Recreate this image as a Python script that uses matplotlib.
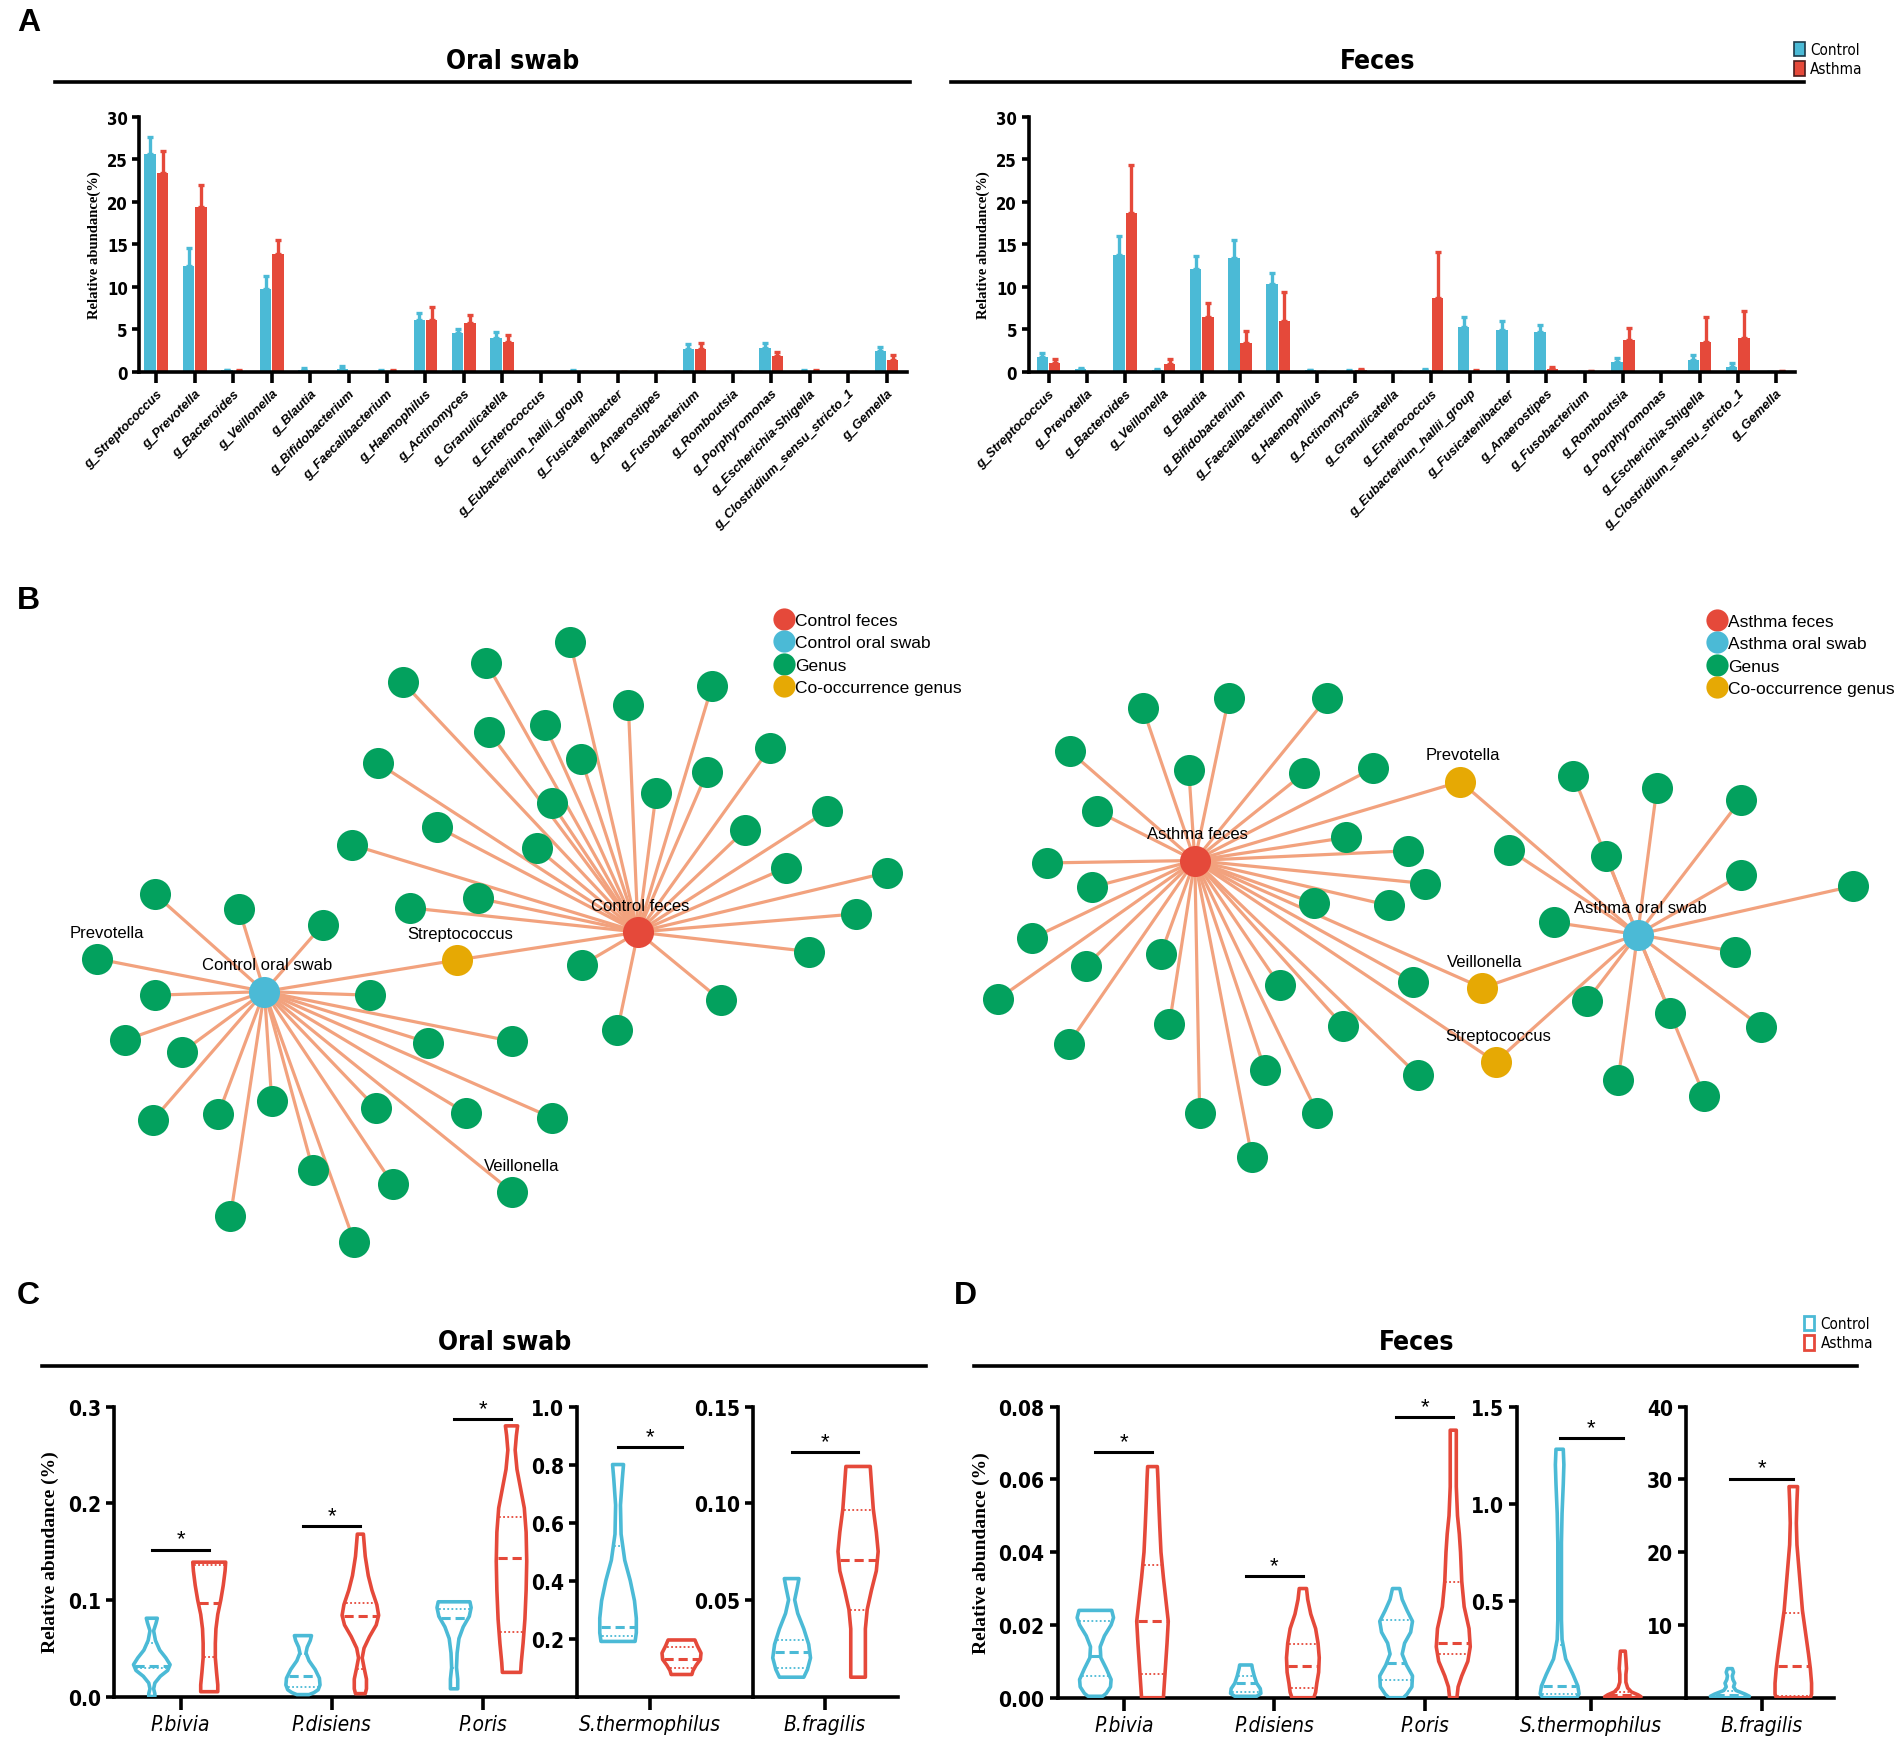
import numpy as np
import matplotlib
matplotlib.use('Agg')
import matplotlib.pyplot as plt
from matplotlib import font_manager
from matplotlib.font_manager import FontProperties
from matplotlib.patches import Patch
from matplotlib.lines import Line2D

# ---------------- data ----------------
genera = ['g_Streptococcus', 'g_Prevotella', 'g_Bacteroides', 'g_Veillonella', 'g_Blautia',
          'g_Bifidobacterium', 'g_Faecalibacterium', 'g_Haemophilus', 'g_Actinomyces',
          'g_Granulicatella', 'g_Enterococcus', 'g_Eubacterium_hallii_group', 'g_Fusicatenibacter',
          'g_Anaerostipes', 'g_Fusobacterium', 'g_Romboutsia', 'g_Porphyromonas',
          'g_Escherichia-Shigella', 'g_Clostridium_sensu_stricto_1', 'g_Gemella']

oral_ctrl = [25.6, 12.4, 0.15, 9.7, 0.2, 0.3, 0.1, 6.1, 4.5, 4.0, 0.0, 0.1, 0.0, 0.0, 2.6, 0.0, 2.8, 0.1, 0.0, 2.4]
oral_ctrl_se = [2.0, 2.1, 0.05, 1.5, 0.2, 0.4, 0.05, 0.8, 0.5, 0.6, 0.0, 0.05, 0.0, 0.0, 0.6, 0.0, 0.6, 0.05, 0.0, 0.5]
oral_asth = [23.4, 19.4, 0.1, 13.8, 0.0, 0.0, 0.1, 6.1, 5.7, 3.5, 0.0, 0.0, 0.0, 0.0, 2.7, 0.0, 1.8, 0.1, 0.0, 1.4]
oral_asth_se = [2.6, 2.5, 0.05, 1.7, 0.0, 0.0, 0.05, 1.5, 0.9, 0.8, 0.0, 0.0, 0.0, 0.0, 0.6, 0.0, 0.5, 0.05, 0.0, 0.5]

fec_ctrl = [1.7, 0.3, 13.7, 0.2, 12.1, 13.4, 10.3, 0.15, 0.1, 0.0, 0.2, 5.2, 4.9, 4.7, 0.0, 1.1, 0.0, 1.4, 0.5, 0.0]
fec_ctrl_se = [0.5, 0.1, 2.2, 0.05, 1.5, 2.1, 1.3, 0.05, 0.05, 0.0, 0.1, 1.2, 1.0, 0.8, 0.0, 0.5, 0.0, 0.5, 0.5, 0.0]
fec_asth = [1.0, 0.0, 18.7, 0.9, 6.4, 3.3, 6.0, 0.0, 0.15, 0.0, 8.6, 0.1, 0.0, 0.3, 0.05, 3.7, 0.0, 3.5, 4.0, 0.05]
fec_asth_se = [0.5, 0.0, 5.6, 0.6, 1.7, 1.5, 3.4, 0.0, 0.1, 0.0, 5.5, 0.05, 0.0, 0.2, 0.0, 1.4, 0.0, 2.9, 3.1, 0.0]

# network layout (node coordinates of the drawn graph)
ctrl_feces_hub = (526, 769)
ctrl_oral_hub = (218, 818)
ctrl_feces_x = [470, 401, 332, 587, 518, 403, 449, 479, 635, 312, 583, 541, 455, 682, 614, 360, 443, 290,
                648, 731, 338, 394, 706, 480, 667, 594, 509]
ctrl_feces_y = [530, 547, 563, 566, 582, 604, 598, 626, 617, 630, 637, 654, 663, 669, 685, 682, 700, 697,
                716, 720, 749, 741, 754, 796, 785, 825, 850]
ctrl_oral_x = [128, 197, 266, 80, 128, 305, 103, 150, 353, 422, 126, 180, 224, 310, 384, 455, 258, 324, 422, 190, 292]
ctrl_oral_y = [738, 750, 763, 791, 821, 821, 858, 868, 860, 859, 924, 919, 908, 914, 918, 922, 965, 977, 983, 1003, 1024]
ctrl_shared_x = [377]
ctrl_shared_y = [792]
ctrl_shared_names = ['Streptococcus']
ctrl_named = [('Prevotella', 80, 791), ('Veillonella', 422, 983)]

asth_feces_hub = (985, 710)
asth_oral_hub = (1350, 771)
asth_feces_x = [942, 1013, 1094, 882, 980, 1075, 1132, 904, 1110, 863, 1161, 900, 1175, 1083, 1145, 851, 957,
                895, 1165, 1055, 823, 964, 1107, 881, 1043, 1169, 989, 1086, 1032]
asth_feces_y = [584, 576, 576, 620, 635, 638, 634, 669, 691, 712, 702, 732, 729, 745, 747, 774, 787,
                797, 810, 813, 824, 845, 846, 861, 883, 887, 918, 918, 954]
asth_oral_x = [1297, 1366, 1435, 1244, 1324, 1435, 1528, 1281, 1430, 1308, 1377, 1452, 1334, 1405]
asth_oral_y = [640, 650, 660, 701, 706, 722, 731, 761, 785, 826, 836, 847, 891, 904]
asth_shared_x = [1204, 1222, 1233]
asth_shared_y = [645, 815, 876]
asth_shared_names = ['Prevotella', 'Veillonella', 'Streptococcus']

species = ['P.bivia', 'P.disiens', 'P.oris', 'S.thermophilus', 'B.fragilis']

# violin outlines: (value, half width) top to bottom
oral_ctrl_shapes = [
    [(0.081, 9), (0.076, 7), (0.068, 3), (0.058, 6), (0.048, 13), (0.040, 23), (0.033, 30), (0.027, 26),
     (0.021, 14), (0.014, 5), (0.008, 3), (0.003, 5), (0.0, 5)],
    [(0.063, 14), (0.058, 12), (0.051, 7), (0.045, 5), (0.037, 10), (0.028, 20), (0.019, 27), (0.012, 28),
     (0.007, 25), (0.004, 18), (0.002, 10)],
    [(0.098, 26), (0.092, 28), (0.083, 25), (0.072, 15), (0.060, 8), (0.045, 5), (0.030, 4), (0.018, 6), (0.008, 6)],
    [(0.80, 9), (0.75, 7), (0.66, 4), (0.56, 5), (0.47, 11), (0.40, 20), (0.33, 27), (0.27, 30), (0.22, 30), (0.19, 28)],
    [(0.061, 12), (0.056, 9), (0.050, 5), (0.043, 10), (0.035, 20), (0.027, 28), (0.020, 31), (0.014, 26), (0.010, 20)],
]
oral_asth_shapes = [
    [(0.139, 27), (0.130, 26), (0.115, 23), (0.100, 19), (0.085, 14), (0.070, 11), (0.055, 10), (0.040, 10),
     (0.025, 12), (0.012, 14), (0.005, 14)],
    [(0.168, 5), (0.160, 6), (0.145, 8), (0.125, 13), (0.110, 19), (0.095, 27), (0.084, 30), (0.074, 26),
     (0.062, 15), (0.050, 6), (0.040, 3), (0.030, 6), (0.018, 10), (0.008, 10), (0.003, 8)],
    [(0.280, 10), (0.270, 8), (0.255, 6), (0.235, 9), (0.215, 15), (0.195, 21), (0.170, 24), (0.140, 25),
     (0.110, 24), (0.080, 22), (0.055, 19), (0.035, 16), (0.025, 15)],
    [(0.195, 22), (0.175, 26), (0.150, 32), (0.128, 31), (0.108, 24), (0.090, 19), (0.076, 17)],
    [(0.119, 20), (0.110, 22), (0.097, 25), (0.085, 30), (0.075, 33), (0.065, 30), (0.055, 22), (0.045, 15),
     (0.035, 12), (0.022, 12), (0.010, 12)],
]
oral_ctrl_quart = [(0.032, 0.029, 0.055), (0.021, 0.010, 0.044), (0.081, 0.030, 0.091), (0.24, 0.21, 0.52), (0.023, 0.015, 0.029)]
oral_asth_quart = [(0.097, 0.041, 0.136), (0.083, 0.028, 0.097), (0.143, 0.067, 0.186), (0.128, 0.098, 0.172), (0.0705, 0.045, 0.0967)]
oral_sig = [0.152, 0.176, 0.287, 0.861, 0.1266]

fec_ctrl_shapes = [
    [(0.024, 27), (0.022, 30), (0.020, 26), (0.017, 15), (0.014, 8), (0.011, 9), (0.008, 18), (0.005, 26),
     (0.003, 25), (0.0012, 18), (0.0004, 12)],
    [(0.009, 10), (0.008, 11), (0.006, 14), (0.004, 18), (0.0025, 24), (0.0012, 25), (0.0004, 18)],
    [(0.030, 6), (0.027, 10), (0.024, 18), (0.021, 27), (0.018, 24), (0.015, 14), (0.012, 10), (0.009, 17),
     (0.006, 27), (0.003, 26), (0.001, 18), (0.0, 12)],
    [(1.28, 6), (1.20, 7), (1.10, 6), (0.95, 4), (0.80, 3), (0.60, 3), (0.40, 3), (0.30, 4), (0.20, 10),
     (0.12, 22), (0.06, 30), (0.02, 32), (0.0, 28)],
    [(4.0, 4), (3.5, 6), (3.0, 4), (2.5, 5), (2.0, 8), (1.5, 6), (1.0, 10), (0.5, 25), (0.2, 32), (0.0, 30)],
]
fec_asth_shapes = [
    [(0.0635, 8), (0.060, 9), (0.055, 10), (0.047, 12), (0.040, 14), (0.033, 18), (0.027, 22), (0.021, 26),
     (0.015, 24), (0.010, 22), (0.005, 20), (0.0, 18)],
    [(0.030, 6), (0.027, 8), (0.023, 13), (0.019, 21), (0.015, 25), (0.011, 27), (0.007, 26), (0.004, 23),
     (0.0015, 21), (0.0, 18)],
    [(0.0735, 5), (0.068, 5), (0.058, 5), (0.050, 7), (0.045, 10), (0.040, 12), (0.032, 14), (0.025, 18),
     (0.019, 26), (0.014, 28), (0.010, 24), (0.006, 14), (0.003, 8), (0.0, 6)],
    [(0.24, 4), (0.20, 5), (0.15, 6), (0.12, 5), (0.08, 5), (0.05, 8), (0.03, 14), (0.015, 25), (0.005, 30), (0.0, 28)],
    [(29.0, 7), (27.0, 6), (24.0, 5), (21.0, 6), (18.0, 9), (15.0, 12), (12.0, 15), (9.0, 20), (6.0, 25),
     (4.0, 28), (2.0, 30), (0.5, 30), (0.0, 28)],
]
fec_ctrl_quart = [(0.0115, 0.006, 0.0212), (0.004, 0.0017, 0.006), (0.0095, 0.005, 0.0214), (0.062, 0.02, 0.27), (0.4, 0.15, 0.9)]
fec_asth_quart = [(0.021, 0.0065, 0.0365), (0.0088, 0.0027, 0.0147), (0.015, 0.012, 0.0318), (0.012, 0.004, 0.03), (4.3, 0.2, 11.6)]
fec_sig = [0.0674, 0.0334, 0.0771, 1.338, 30.1]

# ---------------- style ----------------
BLUE = '#4BBAD6'
RED = '#E5493A'
GREEN = '#03A15E'
GOLD = '#E6A904'
EDGE = '#F2A27E'

SANS = 'Liberation Sans'
SERIF = 'Liberation Serif'

# condensed face for the GraphPad-like labels, if one is installed
ttf = font_manager.fontManager.ttflist
if any(f.name == 'Liberation Sans Narrow' for f in ttf):
    NARROW_FAMILY, NARROW_STRETCH = 'Liberation Sans Narrow', 'normal'
elif any(f.name == 'DejaVu Sans' and f.stretch == 'condensed' for f in ttf):
    NARROW_FAMILY, NARROW_STRETCH = 'DejaVu Sans', 'condensed'
else:
    NARROW_FAMILY, NARROW_STRETCH = 'Liberation Sans', 'normal'


def narrow(size, weight='bold', style='normal'):
    return FontProperties(family=NARROW_FAMILY, stretch=NARROW_STRETCH, size=size,
                          weight=weight, style=style)


W, H = 1568.0, 1434.0


def box(x0, y0, x1, y1):
    return [x0 / W, 1 - y1 / H, (x1 - x0) / W, (y1 - y0) / H]


fig = plt.figure(figsize=(19.02, 17.40), dpi=100)


def section_title(text, cx, cy, x0, x1, ly):
    fig.text(cx / W, 1 - cy / H, text, ha='center', va='center', fontproperties=narrow(19))
    fig.add_artist(Line2D([x0 / W, x1 / W], [1 - ly / H, 1 - ly / H], color='black', lw=2.6,
                          transform=fig.transFigure))


def panel_letter(text, x, y):
    fig.text(x / W, 1 - y / H, text, ha='left', va='center', fontsize=23, fontweight='bold', family=SANS)


def style_axes(ax, lw=2.6):
    for s in ['top', 'right']:
        ax.spines[s].set_visible(False)
    for s in ['left', 'bottom']:
        ax.spines[s].set_linewidth(lw)
    ax.tick_params(width=lw, length=6, direction='out')


# ---------------- panel A ----------------
def bar_panel(rect, xlim, ctrl, ctrl_se, asth, asth_se):
    ax = fig.add_axes(box(*rect))
    n = len(genera)
    x = np.arange(n)
    for off, vals, se, col in [(-0.16, ctrl, ctrl_se, BLUE), (0.16, asth, asth_se, RED)]:
        ax.bar(x + off, vals, 0.3, color=col, zorder=2)
        ax.errorbar(x + off, vals, yerr=[np.zeros(n), se], fmt='none', ecolor=col,
                    elinewidth=2.4, capsize=2.5, capthick=2.4, zorder=2)
    ax.set_xlim(*xlim)
    ax.set_ylim(0, 30)
    ax.set_yticks(range(0, 31, 5))
    style_axes(ax)
    ax.tick_params(axis='x', length=8)
    ax.tick_params(axis='y', length=5)
    ax.set_xticks(x)
    ax.set_xticklabels(genera, rotation=45, ha='right', rotation_mode='anchor', fontsize=9.3,
                       fontweight='bold', fontstyle='italic', family=SANS)
    for lab in ax.get_yticklabels():
        lab.set_fontproperties(narrow(12))
    ax.set_ylabel('Relative abundance(%)', fontsize=10.5, fontweight='bold', family=SERIF, labelpad=4)
    return ax


panel_letter('A', 14, 19)
section_title('Oral swab', 423, 51, 45, 750, 68)
section_title('Feces', 1136, 51, 784, 1487, 68)
bar_panel((115, 97, 748, 307), (-0.44, 19.54), oral_ctrl, oral_ctrl_se, oral_asth, oral_asth_se)
bar_panel((848, 97, 1480, 307), (-0.52, 19.5), fec_ctrl, fec_ctrl_se, fec_asth, fec_asth_se)
fig.legend(handles=[Patch(facecolor=BLUE, edgecolor='#1d3b4a', lw=1.2, label='Control'),
                    Patch(facecolor=RED, edgecolor='#4a1d1d', lw=1.2, label='Asthma')],
           loc='upper left', bbox_to_anchor=(1474 / W, 1 - 30 / H), frameon=False,
           prop=narrow(11, weight='normal'), handlelength=0.7, handleheight=1.1,
           handletextpad=0.35, labelspacing=0.25, borderaxespad=0)

# ---------------- panel B ----------------
panel_letter('B', 14, 495)
axn = fig.add_axes(box(0, 480, 1568, 1060))
axn.set_xlim(0, W)
axn.set_ylim(1060, 480)
axn.axis('off')


def draw_star(hub, xs, ys):
    for x, y in zip(xs, ys):
        axn.plot([hub[0], x], [hub[1], y], color=EDGE, lw=2.3, zorder=1, solid_capstyle='round')


def node_label(text, x, y):
    axn.text(x + 2, y - 22, text, ha='center', va='center', fontsize=12, family=SANS, zorder=5)


NODE = 500
draw_star(ctrl_feces_hub, ctrl_feces_x + ctrl_shared_x, ctrl_feces_y + ctrl_shared_y)
draw_star(ctrl_oral_hub, ctrl_oral_x + ctrl_shared_x, ctrl_oral_y + ctrl_shared_y)
axn.scatter(ctrl_feces_x + ctrl_oral_x, ctrl_feces_y + ctrl_oral_y, s=NODE, color=GREEN, zorder=3, lw=0)
axn.scatter(ctrl_shared_x, ctrl_shared_y, s=NODE, color=GOLD, zorder=3, lw=0)
axn.scatter([ctrl_feces_hub[0]], [ctrl_feces_hub[1]], s=NODE, color=RED, zorder=3, lw=0)
axn.scatter([ctrl_oral_hub[0]], [ctrl_oral_hub[1]], s=NODE, color=BLUE, zorder=3, lw=0)
node_label('Control feces', *ctrl_feces_hub)
node_label('Control oral swab', *ctrl_oral_hub)
for name, x, y in zip(ctrl_shared_names, ctrl_shared_x, ctrl_shared_y):
    node_label(name, x, y)
for name, x, y in ctrl_named:
    node_label(name, x + 6, y)

draw_star(asth_feces_hub, asth_feces_x + asth_shared_x, asth_feces_y + asth_shared_y)
draw_star(asth_oral_hub, asth_oral_x + asth_shared_x, asth_oral_y + asth_shared_y)
axn.scatter(asth_feces_x + asth_oral_x, asth_feces_y + asth_oral_y, s=NODE, color=GREEN, zorder=3, lw=0)
axn.scatter(asth_shared_x, asth_shared_y, s=NODE, color=GOLD, zorder=3, lw=0)
axn.scatter([asth_feces_hub[0]], [asth_feces_hub[1]], s=NODE, color=RED, zorder=3, lw=0)
axn.scatter([asth_oral_hub[0]], [asth_oral_hub[1]], s=NODE, color=BLUE, zorder=3, lw=0)
node_label('Asthma feces', *asth_feces_hub)
node_label('Asthma oral swab', *asth_oral_hub)
for name, x, y in zip(asth_shared_names, asth_shared_x, asth_shared_y):
    node_label(name, x, y)


def net_legend(labels, anchor):
    handles = [Line2D([], [], ls='none', marker='o', ms=16, mew=0, color=c, label=l)
               for c, l in zip([RED, BLUE, GREEN, GOLD], labels)]
    fig.legend(handles=handles, loc='upper left', bbox_to_anchor=(anchor[0] / W, 1 - anchor[1] / H),
               frameon=False, prop={'family': SANS, 'size': 12.5}, handlelength=0.9,
               handletextpad=0.2, labelspacing=0.42, borderaxespad=0)


net_legend(['Control feces', 'Control oral swab', 'Genus', 'Co-occurrence genus'], (634, 500))
net_legend(['Asthma feces', 'Asthma oral swab', 'Genus', 'Co-occurrence genus'], (1403, 501))


# ---------------- panels C and D ----------------
WS = 1.0 / 248.0


def draw_violin(ax, xc, prof, quart, color):
    v = np.array([p[0] for p in prof])
    w = np.array([p[1] for p in prof]) * WS
    xs = np.concatenate([xc - w, (xc + w)[::-1]])
    ys = np.concatenate([v, v[::-1]])
    ax.fill(xs, ys, facecolor='white', edgecolor=color, lw=2.6, joinstyle='round', zorder=3)
    med, q1, q3 = quart
    for val, ls, lw in [(med, (0, (3, 1.6)), 2.2), (q1, (0, (1, 1.3)), 1.3), (q3, (0, (1, 1.3)), 1.3)]:
        hw = np.interp(val, v[::-1], w[::-1]) * 0.92
        ax.plot([xc - hw, xc + hw], [val, val], color=color, ls=ls, lw=lw, zorder=4)


def violin_panel(rects, xlims, ylims, yticks, yfmt, ctrl_sh, asth_sh, ctrl_q, asth_q, sig, groups, offs):
    axes = []
    for rect, xl, yl, yt, fmt, grp, off in zip(rects, xlims, ylims, yticks, yfmt, groups, offs):
        ax = fig.add_axes(box(*rect))
        ax.patch.set_alpha(0)
        ax.set_xlim(*xl)
        ax.set_ylim(*yl)
        style_axes(ax)
        ax.tick_params(axis='x', length=9)
        ax.tick_params(axis='y', length=6)
        ax.set_yticks(yt)
        ax.set_yticklabels([fmt.format(t) for t in yt], fontproperties=narrow(15))
        ax.set_xticks(range(len(grp)))
        ax.set_xticklabels([species[i] for i in grp], fontproperties=narrow(15, weight='normal', style='italic'))
        for j, i in enumerate(grp):
            draw_violin(ax, j - off, ctrl_sh[i], ctrl_q[i], BLUE)
            draw_violin(ax, j + off, asth_sh[i], asth_q[i], RED)
            ax.plot([j - off, j + off], [sig[i], sig[i]], color='black', lw=2.2, zorder=4)
            ax.text(j, sig[i], '*', ha='center', va='bottom', fontsize=16, family=SANS, zorder=4)
        axes.append(ax)
    axes[0].set_ylabel('Relative abundance (%)', fontsize=14, fontweight='bold', family=SERIF, labelpad=6)
    return axes


groups = [[0, 1, 2], [3], [4]]

panel_letter('C', 14, 1068)
section_title('Oral swab', 416, 1107, 35, 763, 1127)
violin_panel([(94, 1160, 476, 1399), (476, 1160, 621, 1399), (621, 1160, 740, 1399)],
             [(-0.44, 2.626), (-0.479, 0.685), (-0.474, 0.482)],
             [(0, 0.3), (0, 1.0), (0, 0.15)],
             [[0, 0.1, 0.2, 0.3], [0.2, 0.4, 0.6, 0.8, 1.0], [0.05, 0.10, 0.15]],
             ['{:.1f}', '{:.1f}', '{:.2f}'],
             oral_ctrl_shapes, oral_asth_shapes, oral_ctrl_quart, oral_asth_quart, oral_sig,
             groups, [0.19, 0.21, 0.22])

panel_letter('D', 786, 1068)
section_title('Feces', 1168, 1107, 803, 1531, 1127)
violin_panel([(872, 1160, 1251, 1400), (1251, 1160, 1390, 1400), (1390, 1160, 1512, 1400)],
             [(-0.44, 2.617), (-0.49, 0.63), (-0.5, 0.48)],
             [(0, 0.08), (0, 1.5), (0, 40)],
             [[0, 0.02, 0.04, 0.06, 0.08], [0.5, 1.0, 1.5], [10, 20, 30, 40]],
             ['{:.2f}', '{:.1f}', '{:.0f}'],
             fec_ctrl_shapes, fec_asth_shapes, fec_ctrl_quart, fec_asth_quart, fec_sig,
             groups, [0.19, 0.21, 0.21])

fig.legend(handles=[Patch(facecolor='white', edgecolor=BLUE, lw=2, label='Control'),
                    Patch(facecolor='white', edgecolor=RED, lw=2, label='Asthma')],
           loc='upper left', bbox_to_anchor=(1482 / W, 1 - 1080 / H), frameon=False,
           prop=narrow(11, weight='normal'), handlelength=0.7, handleheight=1.1,
           handletextpad=0.4, labelspacing=0.25, borderaxespad=0)

fig.savefig('out.png', dpi=100)
